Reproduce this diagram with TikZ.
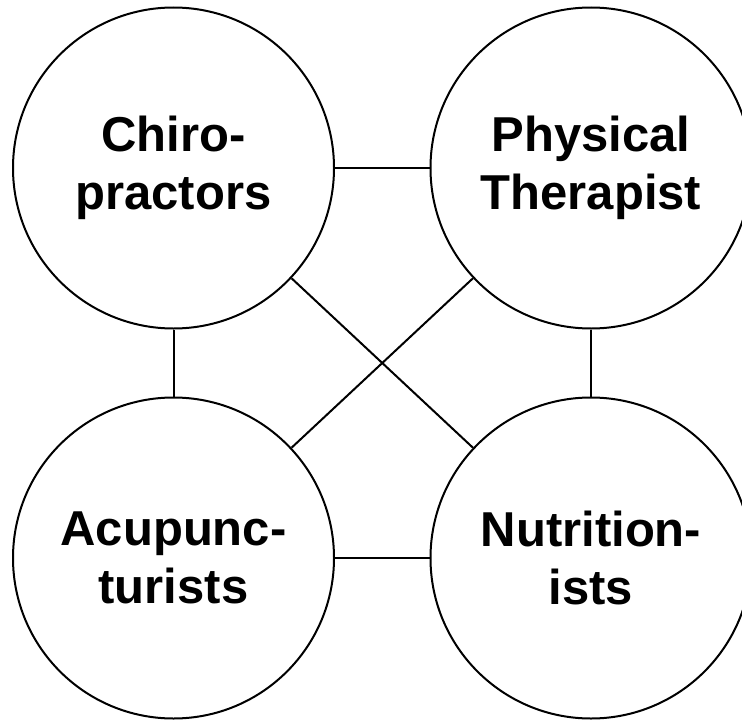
\documentclass[tikz,border=0pt]{standalone}
\usepackage{fontspec}
\setmainfont{Liberation Sans}
\begin{document}
\begin{tikzpicture}[x=1pt,y=-1pt,
  hub/.style={circle,draw,line width=2pt,minimum size=321pt,inner sep=0pt,align=center,
    font=\fontsize{49}{58}\selectfont\bfseries},
  link/.style={line width=2pt}]
\useasboundingbox (0,0) rectangle (742,720);
\node[hub] (chi) at (173.5,168) {Chiro-\\practors};
\node[hub] (phy) at (591,168) {Physical\\Therapist};
\node[hub] (acu) at (173.5,558) {Acupunc-\\turists};
\node[hub] (nut) at (591,558) {Nutrition-\\ists};
\draw[link] (chi) -- (phy);
\draw[link] (acu) -- (nut);
\draw[link] (chi) -- (acu);
\draw[link] (phy) -- (nut);
\draw[link] (chi) -- (nut);
\draw[link] (phy) -- (acu);
\end{tikzpicture}
\end{document}
